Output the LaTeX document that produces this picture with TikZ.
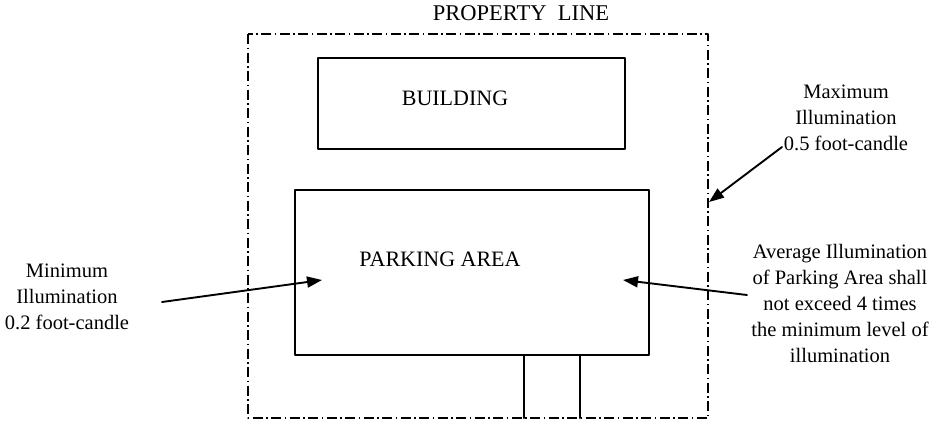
\documentclass[tikz,border=0pt]{standalone}
\usepackage{fontspec}
\setmainfont{Liberation Serif}
\usetikzlibrary{arrows.meta,calc}

\begin{document}
\begin{tikzpicture}[
  x=1pt, y=-1pt,
  >={Triangle[length=15pt,width=11pt]},
  line cap=round,
  line join=round,
  every node/.style={font=\fontsize{20.5}{26}\selectfont, inner sep=0pt},
  boxlabel/.style={font=\fontsize{22}{26}\selectfont},
  propline/.style={line width=1.4pt, dash pattern=on 10pt off 3.5pt on 1.5pt off 3.5pt, line cap=butt},
  plotbox/.style={line width=2.2pt},
  callout/.style={->, line width=1.9pt}
]
  \useasboundingbox (0,0) rectangle (933,423);

  % Corners of the property, building and parking area
  \coordinate (p1) at (248, 34);
  \coordinate (p2) at (708,418);
  \coordinate (b1) at (318, 58);
  \coordinate (b2) at (625,149);
  \coordinate (k1) at (295,190);
  \coordinate (k2) at (649,355);

  % Property line (dash-dot)
  \draw[propline] (p1) rectangle (p2);
  \node[font=\fontsize{22.5}{26}\selectfont] (prop) at (521,13) {PROPERTY\ \ LINE};

  % Building and parking area
  \draw[plotbox] (b1) rectangle (b2);
  \draw[plotbox] (k1) rectangle (k2);
  \node[boxlabel] (bldg) at (455,98)  {BUILDING};
  \node[boxlabel] (park) at (440,259) {PARKING AREA};

  % Driveway out to the property line
  \foreach \dx in {524, 580}{
    \draw[plotbox] (\dx,355) -- (\dx,418);
  }

  % Labels
  \node[align=center] (minlbl) at (67,297) {Minimum\\Illumination\\0.2 foot-candle};
  \node[align=center] (maxlbl) at (846,118) {Maximum\\Illumination\\0.5 foot-candle};
  \node[align=center] (avglbl) at (840,303)
    {Average Illumination\\of Parking Area shall\\not exceed 4 times\\the minimum level of\\illumination};

  % Arrow ends
  \coordinate (minstart) at (162,302);
  \coordinate (mintip)   at (322,280);
  \coordinate (maxstart) at (782,147);
  \coordinate (maxtip)   at (709,202);
  \coordinate (avgstart) at (747,295);
  \coordinate (avgtip)   at (623,280);

  \draw[callout] (minstart) -- (mintip);
  \draw[callout] (maxstart) -- (maxtip);
  \draw[callout] (avgstart) -- (avgtip);
\end{tikzpicture}
\end{document}
